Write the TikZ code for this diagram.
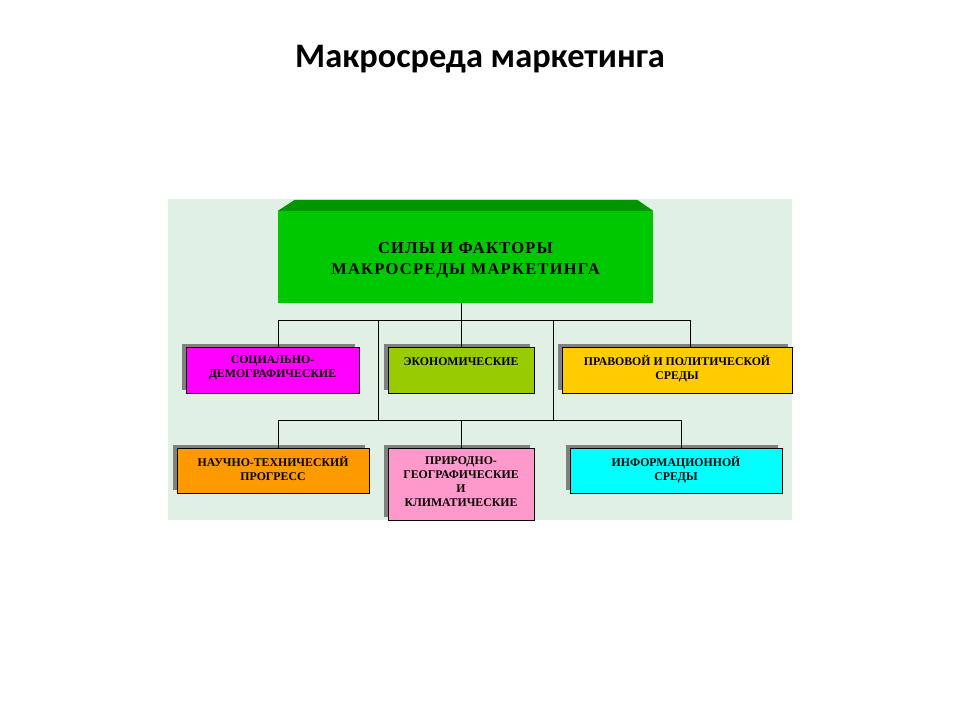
\documentclass[tikz,border=0pt]{standalone}
\usepackage{fontspec}
\setmainfont{Liberation Serif}
\newfontfamily\titlefont{Carlito}
\newfontfamily\forcesfont[LetterSpace=7.5]{Liberation Serif}
\usetikzlibrary{shadows}
\definecolor{panelbg}{HTML}{E1F0E4}
\definecolor{forcegreen}{HTML}{00C800}
\definecolor{forcetop}{HTML}{009600}
\definecolor{socmag}{HTML}{FF00FF}
\definecolor{econgreen}{HTML}{99CC00}
\definecolor{legalyellow}{HTML}{FFCC00}
\definecolor{sciorange}{HTML}{FF9900}
\definecolor{natpink}{HTML}{FF99CC}
\definecolor{infocyan}{HTML}{00FFFF}
\definecolor{shadowgray}{HTML}{808080}
\tikzstyle{factor}=[draw=black,line width=0.6pt,rectangle,inner sep=0pt,drop shadow={shadow xshift=-4pt,shadow yshift=3pt,fill=shadowgray,opacity=1}]
\tikzstyle{factor text}=[font=\bfseries\fontsize{11.8}{14}\selectfont,align=center,inner sep=0pt,execute at begin node=\strut]
\tikzstyle{link}=[draw,line width=0.8pt]

\begin{document}
\begin{tikzpicture}[x=1pt,y=1pt]
	\useasboundingbox (0,0) rectangle (960,-720);
	\node[font=\titlefont\bfseries\fontsize{34.4}{40}\selectfont,anchor=base] (title) at (480,-67) {Макросреда маркетинга};

	% background panel
	\fill[panelbg] (168,-199) rectangle (792,-520);

	% main box with its top bevel
	\node[fill=forcegreen,minimum width=375pt,minimum height=92pt,inner sep=0pt,
		label={[font=\forcesfont\bfseries\fontsize{16.5}{21.5}\selectfont,align=center,inner sep=0pt,
		anchor=north,yshift=-31.5pt,execute at begin node=\strut]north:{СИЛЫ И ФАКТОРЫ\\МАКРОСРЕДЫ МАРКЕТИНГА}}] (forces) at (465.5,-257) {};
	\fill[forcetop] (forces.north west) -- ++(17,11) -- ([xshift=-16pt,yshift=11pt]forces.north east) -- (forces.north east) -- cycle;

	% the factor boxes
	\foreach \pos/\name/\w/\h/\col/\txt in {{(272.5,-370)/soc/173pt/46pt/socmag/{СОЦИАЛЬНО-\\ДЕМОГРАФИЧЕСКИЕ}},
							{(461,-370)/econ/146pt/46pt/econgreen/{ЭКОНОМИЧЕСКИЕ}},
							{(677,-370)/legal/230pt/46pt/legalyellow/{ПРАВОВОЙ И ПОЛИТИЧЕСКОЙ\\СРЕДЫ}},
							{(273,-470.5)/sci/192pt/45pt/sciorange/{НАУЧНО-ТЕХНИЧЕСКИЙ\\ПРОГРЕСС}},
							{(461,-484)/nature/146pt/72pt/natpink/{ПРИРОДНО-\\ГЕОГРАФИЧЕСКИЕ\\И\\КЛИМАТИЧЕСКИЕ}},
							{(676,-470.5)/info/212pt/45pt/infocyan/{ИНФОРМАЦИОННОЙ\\СРЕДЫ}}}
	\node[factor,fill=\col,minimum width=\w,minimum height=\h,
		label={[factor text,anchor=north,yshift=-8.5pt]north:\txt}] (\name) at \pos {};

	% connectors
	\coordinate (b1l) at (278,-320);
	\coordinate (b1r) at (690,-320);
	\coordinate (b2l) at (278,-420);
	\coordinate (b2r) at (681,-420);
	\coordinate (v1) at (378,-320);
	\coordinate (v2) at (553,-320);
	\path[link] (econ.north) -- (econ.north |- forces.south);
	\path[link] (b1l) -- (b1r);
	\path[link] (b1l) -- (b1l |- soc.north);
	\path[link] (b1r) -- (b1r |- legal.north);
	\path[link] (v1) -- (v1 |- b2l);
	\path[link] (v2) -- (v2 |- b2l);
	\path[link] (b2l) -- (b2r);
	\path[link] (b2l) -- (b2l |- sci.north);
	\path[link] (nature.north) -- (nature.north |- b2l);
	\path[link] (b2r) -- (b2r |- info.north);
\end{tikzpicture}
\end{document}
